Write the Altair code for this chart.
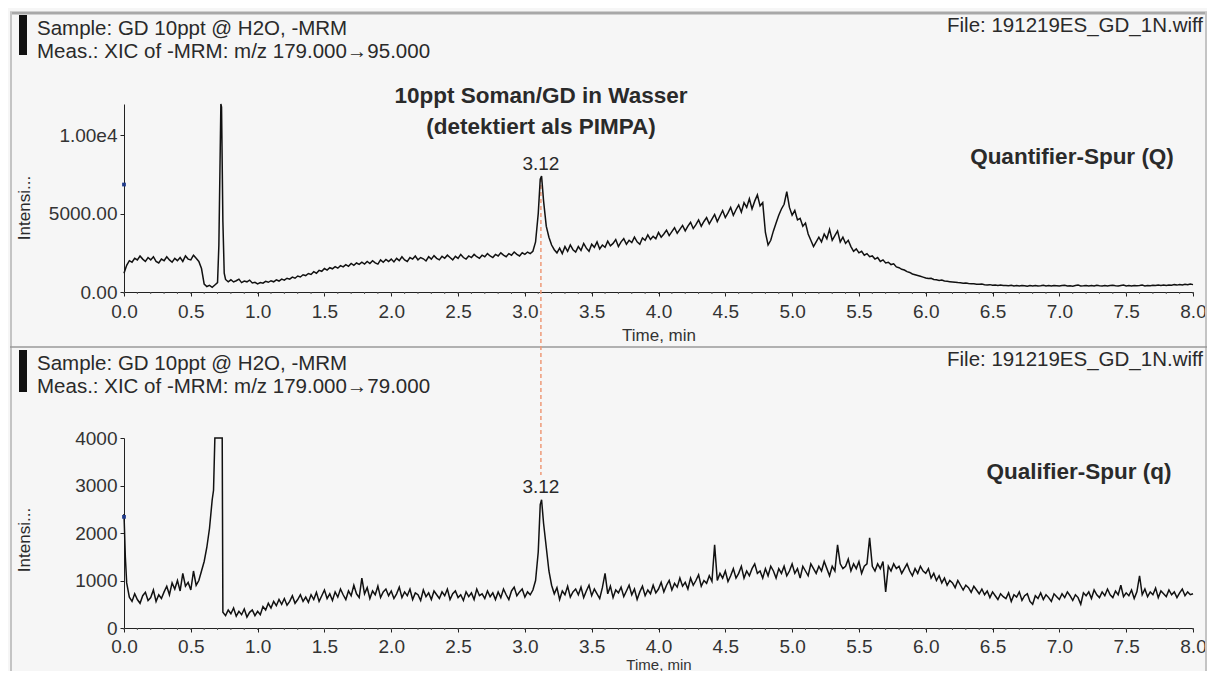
import altair as alt
import pandas as pd

# ---------------- data ----------------
# regular time grid, 0.02 min steps from 0.00 to 8.00
grid_t = [round(i * 0.02, 2) for i in range(401)]

# Quantifier trace m/z 179 -> 95 (intensity on the grid, rows of 0.2 min)
quant_grid = [
    1200, 1700, 2000, 1900, 2150, 2050, 2300, 2100, 1950, 2200,   # 0.00
    2050, 2250, 1950, 1850, 2100, 2000, 2250, 2050, 1900, 2150,   # 0.20
    2000, 2200, 1950, 2300, 2100, 2050, 2350, 2150, 1950, 1500,   # 0.40
    500, 350, 420, 300, 450, 600, 9000, 4500, 800, 650,           # 0.60
    780, 640, 720, 820, 600, 700, 650, 760, 580, 620,             # 0.80
    520, 600, 560, 680, 620, 720, 650, 780, 700, 820,             # 1.00
    760, 880, 820, 950, 880, 1020, 960, 1100, 1050, 1180,         # 1.20
    1120, 1300, 1200, 1380, 1320, 1500, 1400, 1550, 1480, 1620,   # 1.40
    1520, 1680, 1600, 1750, 1640, 1820, 1700, 1850, 1760, 1900,   # 1.60
    1780, 1950, 1820, 2000, 1860, 1780, 2050, 1900, 2080, 1950,   # 1.80
    2100, 1920, 2150, 2000, 2250, 2050, 1950, 2200, 2100, 2300,   # 2.00
    2050, 2200, 2120, 1980, 2250, 2100, 2320, 2150, 2050, 2280,   # 2.20
    2150, 2350, 2200, 2050, 2280, 2150, 2400, 2200, 2100, 2300,   # 2.40
    2200, 2400, 2250, 2150, 2350, 2250, 2450, 2300, 2200, 2400,   # 2.60
    2300, 2500, 2350, 2250, 2450, 2350, 2550, 2400, 2300, 2500,   # 2.80
    2400, 2550, 2450, 2600, 3200, 5000, 7300, 5800, 4200, 3500,   # 3.00
    3000, 2700, 2500, 2800, 2450, 2900, 2600, 3000, 2700, 2550,   # 3.20
    2900, 2650, 3100, 2800, 2600, 3050, 2850, 3200, 2750, 3000,   # 3.40
    2850, 3250, 2950, 3100, 3350, 2900, 3200, 3400, 3050, 3300,   # 3.60
    3150, 3500, 3200, 3050, 3450, 3300, 3650, 3350, 3550, 3400,   # 3.80
    3800, 3500, 3700, 3950, 3600, 3850, 4100, 3750, 4000, 4250,   # 4.00
    3900, 4200, 4450, 4050, 4300, 4600, 4200, 4500, 4750, 4350,   # 4.20
    4650, 4950, 4500, 4850, 5200, 4750, 5050, 5400, 4900, 5250,   # 4.40
    5550, 5100, 5700, 5400, 5950, 5300, 5800, 6200, 5500, 5700,   # 4.60
    3800, 3000, 3300, 3900, 4400, 4900, 5300, 5600, 6400, 5400,   # 4.80
    4900, 5200, 4600, 4700, 4200, 4400, 3700, 3300, 2900, 3200,   # 5.00
    3500, 3200, 3700, 3400, 4000, 3300, 3600, 3900, 3200, 3500,   # 5.20
    3100, 3300, 2900, 2600, 2750, 2500, 2600, 2350, 2450, 2250,   # 5.40
    2300, 2100, 2200, 1950, 2050, 1850, 1900, 1750, 1800, 1600,   # 5.60
    1550, 1450, 1400, 1300, 1250, 1150, 1100, 1050, 1000, 950,    # 5.80
    900, 860, 880, 800, 780, 740, 760, 700, 680, 660,             # 6.00
    640, 620, 600, 590, 560, 580, 540, 520, 530, 500,             # 6.20
    490, 510, 470, 450, 470, 430, 450, 420, 440, 410,             # 6.40
    420, 400, 430, 390, 410, 380, 420, 400, 370, 410,             # 6.60
    390, 420, 380, 400, 430, 390, 410, 380, 420, 400,             # 6.80
    380, 410, 430, 390, 400, 370, 410, 440, 390, 400,             # 7.00
    420, 390, 410, 380, 430, 400, 390, 420, 380, 410,             # 7.20
    430, 400, 380, 420, 440, 390, 410, 380, 420, 400,             # 7.40
    410, 440, 390, 420, 400, 430, 410, 450, 420, 440,             # 7.60
    410, 450, 430, 470, 440, 480, 450, 500, 460, 510,             # 7.80
    470,                                                          # 8.00
]
quant_extra_t = [0.71, 0.725, 0.73, 0.75, 3.115, 3.125]
quant_extra_v = [3000, 12000, 11800, 1200, 7200, 7400]

# Qualifier trace m/z 179 -> 79
qual_grid = [
    2400, 950, 650, 560, 720, 600, 520, 680, 750, 580,            # 0.00
    640, 800, 560, 700, 620, 760, 880, 700, 950, 820,             # 0.20
    1000, 780, 1150, 880, 960, 800, 1200, 900, 1000, 1200,        # 0.40
    1400, 1700, 2100, 2700, 9000, 9000, 9000, 330, 260, 380,      # 0.60
    300, 420, 250, 350, 280, 400, 230, 330, 380, 260,             # 0.80
    350, 280, 450, 380, 520, 420, 560, 470, 600, 500,             # 1.00
    620, 480, 560, 680, 520, 600, 700, 560, 650, 540,             # 1.20
    700, 600, 750, 560, 680, 800, 620, 720, 580, 760,             # 1.40
    650, 820, 700, 600, 780, 680, 900, 720, 640, 1050,            # 1.60
    720, 850, 620, 780, 700, 880, 640, 760, 820, 680,             # 1.80
    780, 620, 720, 860, 640, 760, 680, 820, 600, 740,             # 2.00
    700, 580, 800, 660, 740, 600, 780, 700, 620, 760,             # 2.20
    680, 820, 600, 720, 780, 640, 700, 580, 760, 660,             # 2.40
    740, 600, 820, 680, 720, 620, 780, 660, 740, 600,             # 2.60
    760, 640, 820, 700, 600, 780, 860, 680, 760, 820,             # 2.80
    650, 760, 700, 800, 1000, 1600, 2650, 2200, 1700, 1200,       # 3.00
    900, 720, 850, 600, 780, 700, 880, 650, 760, 820,             # 3.20
    700, 860, 640, 780, 900, 680, 820, 720, 620, 850,             # 3.40
    1150, 720, 880, 640, 800, 740, 860, 660, 780, 900,            # 3.60
    700, 820, 600, 760, 880, 680, 800, 720, 900, 740,             # 3.80
    820, 960, 760, 900, 1000, 800, 940, 860, 1050, 880,           # 4.00
    960, 820, 1050, 900, 1000, 1120, 880, 1000, 940, 1100,        # 4.20
    980, 1750, 1000, 1150, 1050, 1200, 980, 1100, 1250, 1050,     # 4.40
    1150, 1300, 1050, 1200, 1100, 1250, 1350, 1150, 1200, 1050,   # 4.60
    1250, 1100, 1300, 1200, 1050, 1250, 1150, 1300, 1100, 1200,   # 4.80
    1350, 1150, 1250, 1050, 1300, 1200, 1100, 1350, 1250, 1150,   # 5.00
    1300, 1200, 1400, 1250, 1100, 1300, 1200, 1750, 1350, 1250,   # 5.20
    1300, 1450, 1200, 1350, 1250, 1400, 1150, 1300, 1350, 1900,   # 5.40
    1300, 1200, 1350, 1250, 1400, 760, 1300, 1200, 1350, 1250,    # 5.60
    1300, 1150, 1250, 1350, 1200, 1100, 1250, 1150, 1300, 1200,   # 5.80
    1150, 1250, 1050, 1150, 1000, 1100, 950, 1050, 900, 1000,     # 6.00
    950, 850, 1000, 900, 800, 900, 850, 750, 880, 800,            # 6.20
    720, 820, 700, 780, 640, 760, 680, 600, 720, 660,             # 6.40
    620, 740, 560, 700, 650, 760, 580, 680, 720, 560,             # 6.60
    500, 680, 620, 740, 600, 700, 640, 560, 720, 660,             # 6.80
    600, 720, 640, 760, 680, 580, 700, 640, 500, 740,             # 7.00
    680, 760, 620, 800, 700, 640, 760, 680, 820, 700,             # 7.20
    640, 780, 700, 900, 660, 740, 680, 800, 620, 760,             # 7.40
    1100, 700, 820, 660, 760, 700, 840, 640, 780, 720,            # 7.60
    660, 800, 700, 760, 640, 740, 820, 680, 760, 700,             # 7.80
    720,                                                          # 8.00
]
qual_extra_t = [0.01, 0.67, 0.735, 3.115, 3.125]
qual_extra_v = [1500, 2900, 9000, 2600, 2700]

peak_rt = [3.12]
x_ticks = [i * 0.5 for i in range(17)]
x_minor = [round(i * 0.1, 1) for i in range(81)]
quant_ticks = [0, 5000, 10000]
qual_ticks = [0, 1000, 2000, 3000, 4000]
quant_marker = [6860]
qual_marker = [2340]

# ---------------- tables ----------------
def trace(grid_v, extra_t, extra_v):
    df = pd.DataFrame({"t": grid_t + extra_t, "v": grid_v + extra_v})
    return df.sort_values("t").reset_index(drop=True)

df_quant = trace(quant_grid, quant_extra_t, quant_extra_v)
df_qual = trace(qual_grid, qual_extra_t, qual_extra_v)

# ---------------- layout ----------------
FONT = "Liberation Sans"
W, H = 1069, 524
TOP_H = 188                 # top panel occupies 0..188 px
BOT_Y0, BOT_Y1 = 524, 334   # bottom panel y range (pixels)
TXT = "#2a2a2a"
HEAD = 20.5

axis_style = dict(domainColor="#222", tickColor="#222", tickSize=4,
                  labelColor="#333", labelFont=FONT,
                  labelFlush=False,
                  titleFont=FONT, titleColor="#333",
                  titleFontWeight="normal", grid=False)

x_scale = alt.Scale(domain=[0, 8], nice=False, zero=False)
top_y_scale = alt.Scale(domain=[0, 12000], range=[TOP_H, 0], clamp=True, nice=False)
bot_y_scale = alt.Scale(domain=[0, 4000], range=[BOT_Y0, BOT_Y1], clamp=True, nice=False)

top_trace = alt.Chart(df_quant).mark_line(color="#111", strokeWidth=1.5).encode(
    x=alt.X("t:Q", scale=x_scale,
            axis=alt.Axis(orient="bottom", offset=-(H - TOP_H), values=x_ticks,
                          format=".1f", title="Time, min", labelPadding=6,
                          labelFontSize=19, titleFontSize=17,
                          titlePadding=6, **axis_style)),
    y=alt.Y("v:Q", scale=top_y_scale,
            axis=alt.Axis(orient="left", values=quant_ticks, title=None,
                          labelExpr="datum.value == 10000 ? '1.00e4' : format(datum.value, '.2f')",
                          labelFontSize=19, labelPadding=3, **axis_style)),
)

bot_trace = alt.Chart(df_qual).mark_line(color="#111", strokeWidth=1.5).encode(
    x=alt.X("t:Q", scale=x_scale,
            axis=alt.Axis(orient="bottom", values=x_ticks, format=".1f",
                          title="Time, min", labelPadding=5, titlePadding=1,
                          labelFontSize=19, titleFontSize=15,
                          **axis_style)),
    y=alt.Y("v:Q", scale=bot_y_scale,
            axis=alt.Axis(orient="left", values=qual_ticks, format="d",
                          title=None, labelFontSize=19, labelPadding=3,
                          **axis_style)),
)

one = alt.Data(values=[{}])


def label(text, x, y, size=HEAD, weight="normal", align="left", angle=0):
    return alt.Chart(one).mark_text(
        text=text, fontSize=size, fontWeight=weight, align=align,
        baseline="middle", font=FONT, color=TXT, angle=angle,
    ).encode(x=alt.value(x), y=alt.value(y))


def hrule(x1, x2, y, color, width):
    return alt.Chart(one).mark_rule(color=color, strokeWidth=width).encode(
        x=alt.value(x1), x2=alt.value(x2), y=alt.value(y), y2=alt.value(y))


def vrule(x, y1, y2, color, width):
    return alt.Chart(one).mark_rule(color=color, strokeWidth=width).encode(
        x=alt.value(x), x2=alt.value(x), y=alt.value(y1), y2=alt.value(y2))


peak_df = pd.DataFrame({"t": peak_rt})
minor_df = pd.DataFrame({"t": x_minor})
x_noaxis = alt.X("t:Q", scale=x_scale, axis=None)

dashed = alt.Chart(peak_df).mark_rule(color="#ee9a78", strokeWidth=1.5,
                                      strokeDash=[4, 3]).encode(
    x=x_noaxis, y=alt.value(74), y2=alt.value(371))

minor_top = alt.Chart(minor_df).mark_rule(color="#555", strokeWidth=1).encode(
    x=x_noaxis, y=alt.value(TOP_H), y2=alt.value(TOP_H + 2))
minor_bot = alt.Chart(minor_df).mark_rule(color="#555", strokeWidth=1).encode(
    x=x_noaxis, y=alt.value(BOT_Y0), y2=alt.value(BOT_Y0 + 2))

peak_top = alt.Chart(peak_df).mark_text(fontSize=19, font=FONT, color=TXT,
                                        baseline="middle").encode(
    x=x_noaxis, y=alt.value(60), text=alt.Text("t:Q", format=".2f"))
peak_bot = alt.Chart(peak_df).mark_text(fontSize=19, font=FONT, color=TXT,
                                        baseline="middle").encode(
    x=x_noaxis, y=alt.value(383), text=alt.Text("t:Q", format=".2f"))

marker_top = alt.Chart(pd.DataFrame({"t": [0], "v": quant_marker})).mark_square(
    size=14, color="#1f3a8a", opacity=1).encode(
    x=x_noaxis, y=alt.Y("v:Q", scale=top_y_scale, axis=None))
marker_bot = alt.Chart(pd.DataFrame({"t": [0], "v": qual_marker})).mark_square(
    size=14, color="#1f3a8a", opacity=1).encode(
    x=x_noaxis, y=alt.Y("v:Q", scale=bot_y_scale, axis=None))

FRAME = "#a8a8a8"
layers = [
    # frame
    hrule(-114, 1083, -91, FRAME, 3),
    vrule(-113, -92, 575, "#c4c4c4", 2),
    vrule(1082, -92, 575, "#c4c4c4", 2),
    hrule(-114, 1083, 243, "#9a9a9a", 1.5),
    # black header bars
    vrule(-101, -89, -49, "#111", 8),
    vrule(-101, 246, 288, "#111", 8),
    # headers
    label("Sample: GD 10ppt @ H2O, -MRM", -87, -75),
    label("Meas.: XIC of -MRM: m/z 179.000\u219295.000", -87, -52),
    label("File: 191219ES_GD_1N.wiff", 823, -78),
    label("Sample: GD 10ppt @ H2O, -MRM", -87, 260),
    label("Meas.: XIC of -MRM: m/z 179.000\u219279.000", -87, 283),
    label("File: 191219ES_GD_1N.wiff", 823, 256),
    # annotations
    label("10ppt Soman/GD in Wasser", 417, -8, size=22.5, weight="bold", align="center"),
    label("(detektiert als PIMPA)", 417, 23, size=22.5, weight="bold", align="center"),
    label("Quantifier-Spur (Q)", 948, 53, size=22.5, weight="bold", align="center"),
    label("Qualifier-Spur (q)", 955, 368, size=22.5, weight="bold", align="center"),
    label("Intensi...", -99, 104, size=17, align="center", angle=270),
    label("Intensi...", -99, 436, size=17, align="center", angle=270),
    dashed,
    minor_top,
    minor_bot,
    top_trace,
    bot_trace,
    peak_top,
    peak_bot,
    marker_top,
    marker_bot,
]

chart = alt.layer(*layers).resolve_scale(
    x="independent", y="independent"
).resolve_axis(
    x="independent", y="independent"
).properties(
    width=W, height=H,
    autosize=alt.AutoSizeParams(type="none"),
    padding={"left": 116, "top": 96, "right": 14, "bottom": 43},
    background="#f6f6f6",
).configure_view(stroke=None)

chart.save("out.html", embed_options={"renderer": "svg", "actions": False})
